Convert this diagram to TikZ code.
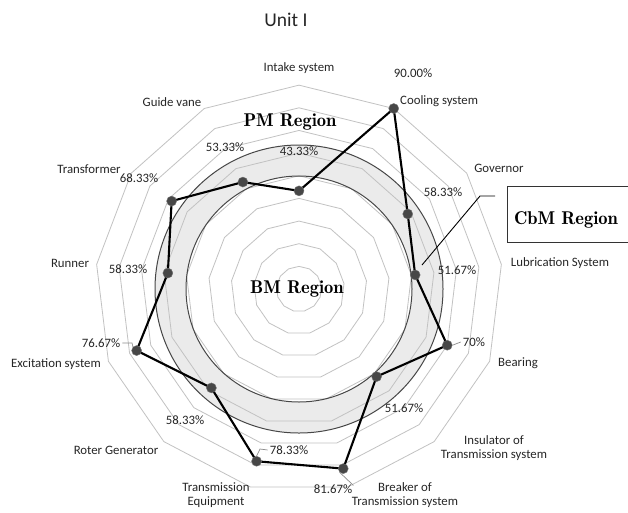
\documentclass[tikz,border=0pt]{standalone}
\usepackage{fontspec}
\newfontfamily\calfont{Carlito}
\newfontfamily\regfont{lmromandemi10-regular.otf}
\begin{document}
\begin{tikzpicture}[x=1pt,y=-1pt,
  lbl/.style={font=\calfont\fontsize{12.8}{14.5}\selectfont, text=black!85, inner sep=0pt, align=center},
  title/.style={font=\calfont\fontsize{19.5}{22}\selectfont, text=black!85, inner sep=0pt},
  region/.style={font=\regfont\fontsize{18.5}{22}\selectfont, text=black, inner sep=0pt},
  ring/.style={draw=black!24, line width=0.8pt},
  zone/.style={draw=black!72, line width=1pt},
  dataline/.style={draw=black, line width=2.1pt, line join=round},
  dot/.style={circle, fill=black!72, draw=black!55, line width=0.4pt, minimum size=10pt, inner sep=0pt},
  leader/.style={draw=black!45, line width=0.7pt},
  boxline/.style={draw=black!80, line width=0.9pt}]
\useasboundingbox (0,0) rectangle (628,512);
\fill[white] (0,0) rectangle (628,512);
\coordinate (c) at (299,289);
% shaded band between the two zone circles
\fill[black!8, even odd rule] (c) circle[radius=144pt] (c) circle[radius=113pt];
% grid rings (10% .. 90%)
\foreach \r in {1,...,9}{
  \draw[ring] ({299},{289-\r*22.65}) \foreach \i in {1,...,12}{ -- ({299+\r*22.65*sin(\i*360/13)},{289-\r*22.65*cos(\i*360/13)}) } -- cycle;
}
% zone circles
\draw[zone] (c) circle[radius=113pt];
\draw[zone] (c) circle[radius=144pt];
% data points
\foreach \v [count=\i from 0] in {43.33,90,58.33,51.67,70,51.67,81.67,78.33,58.33,76.67,58.33,68.33,53.33}{
  \coordinate (p\i) at ({299+\v*2.265*sin(\i*360/13)},{289-\v*2.265*cos(\i*360/13)});
}
\draw[dataline] (p0) -- (p1) -- (p2) -- (p3) -- (p4) -- (p5) -- (p6) -- (p7) -- (p8) -- (p9) -- (p10) -- (p11) -- (p12) -- cycle;
\foreach \i in {0,...,12}{ \node[dot] (d\i) at (p\i) {}; }
% title
\node[title] (ttl) at (286,20) {Unit I};
% category labels
\node[lbl] (c0) at (299,68) {Intake system};
\node[lbl, anchor=west] (c1) at (400,101) {Cooling system};
\node[lbl] (c2) at (499,168) {Governor};
\node[lbl] (c3) at (560,263) {Lubrication System};
\node[lbl] (c4) at (518,363) {Bearing};
\node[lbl] (c5) at (494,448) {Insulator of\\Transmission system};
\node[lbl] (c6) at (405,495) {Breaker of\\Transmission system};
\node[lbl] (c7) at (216,495) {Transmission\\Equipment};
\node[lbl] (c8) at (116,450) {Roter Generator};
\node[lbl] (c9) at (56,364) {Excitation system};
\node[lbl] (c10) at (70,263) {Runner};
\node[lbl] (c11) at (89,169) {Transformer};
\node[lbl] (c12) at (172,102) {Guide vane};
% value labels
\node[lbl] (v0) at (299,151) {43.33\%};
\node[lbl] (v1) at (413,73) {90.00\%};
\node[lbl] (v2) at (443,192) {58.33\%};
\node[lbl] (v3) at (457,270) {51.67\%};
\node[lbl] (v4) at (474,342) {70\%};
\node[lbl] (v5) at (404,408) {51.67\%};
\node[lbl] (v6) at (333,489) {81.67\%};
\node[lbl] (v7) at (289,450) {78.33\%};
\node[lbl] (v8) at (185,420) {58.33\%};
\node[lbl] (v9) at (101,343) {76.67\%};
\node[lbl] (v10) at (128,269) {58.33\%};
\node[lbl] (v11) at (139,178) {68.33\%};
\node[lbl] (v12) at (225,147) {53.33\%};
% value label leaders
\draw[leader] ([xshift=-2pt]v4.west) -- (d4.east);
\coordinate (k9) at (132,343);
\draw[leader] ([xshift=2pt]v9.east) -- (k9) -- (d9.north west);
\coordinate (k7) at (260,449);
\draw[leader] ([xshift=-2pt]v7.west) -- (k7) -- (d7.north);
\draw[leader] (d6.south west) -- ([xshift=1pt,yshift=-1pt]v6.north east);
% region labels
\node[region] (pm) at (290,122) {PM Region};
\node[region] (bm) at (297,289) {BM Region};
\node[boxline, minimum width=125pt, minimum height=56pt, anchor=north west] (cbmbox) at (507,186) {};
\node[region] (cbm) at (566,220) {CbM Region};
\coordinate (q1) at (495,196);
\coordinate (q2) at (480,196);
\coordinate (q3) at (422,265);
\draw[draw=black, line width=0.9pt] (q1) -- (q2) -- (q3);
\end{tikzpicture}
\end{document}
